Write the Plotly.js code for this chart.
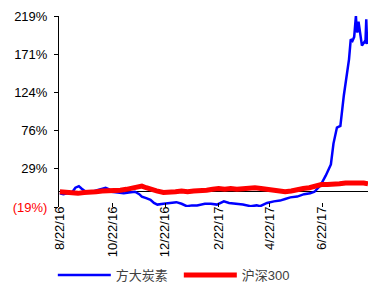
<!DOCTYPE html>
<html>
<head>
<meta charset="utf-8">
<script src="https://cdn.plot.ly/plotly-3.0.1.min.js"></script>
<style>html,body{margin:0;padding:0;background:#fff;overflow:hidden}#chart{width:370px;height:290px}</style>
</head>
<body>
<div id="chart"></div>
<script>
// Series names
const seriesNames = ['方大炭素', '沪深300'];

// 方大炭素 cumulative return (%)
const blueDates = ['2016-08-22','2016-08-26','2016-08-31','2016-09-05','2016-09-09','2016-09-13','2016-09-16','2016-09-21','2016-09-28','2016-10-05','2016-10-10','2016-10-14','2016-10-18','2016-10-21','2016-10-28','2016-11-04','2016-11-10','2016-11-17','2016-11-22','2016-11-25','2016-11-30','2016-12-05','2016-12-09','2016-12-13','2016-12-20','2016-12-28','2017-01-04','2017-01-10','2017-01-16','2017-01-22','2017-01-28','2017-02-06','2017-02-13','2017-02-20','2017-02-28','2017-03-06','2017-03-15','2017-03-22','2017-03-31','2017-04-07','2017-04-11','2017-04-19','2017-04-27','2017-05-04','2017-05-10','2017-05-16','2017-05-24','2017-06-01','2017-06-08','2017-06-13','2017-06-20','2017-06-26','2017-07-02','2017-07-05','2017-07-09','2017-07-13','2017-07-17','2017-07-21','2017-07-23','2017-07-25','2017-07-27','2017-07-29','2017-07-31','2017-08-01','2017-08-02','2017-08-03','2017-08-07','2017-08-10','2017-08-11','2017-08-12','2017-08-13'];
const blueVals = [-2,-3,-2,-1,5,7,4,0,0,2,3,5,3,0,-1,-2,-1,0,-3,-6,-8,-10,-14,-16,-15,-14,-13,-15,-18,-17,-17,-15,-15,-16,-12,-14,-15,-16,-18,-17,-18,-14,-12,-11,-9,-7,-6,-3,-2,0,8,20,34,60,80,82,120,150,165,190,188,193,219,200,199,212,182,187,185,215,184];

// 沪深300 cumulative return (%)
const redDates = ['2016-08-22','2016-08-29','2016-09-05','2016-09-12','2016-09-19','2016-09-26','2016-10-03','2016-10-10','2016-10-17','2016-10-24','2016-10-31','2016-11-07','2016-11-14','2016-11-21','2016-11-25','2016-11-30','2016-12-05','2016-12-12','2016-12-20','2016-12-27','2017-01-03','2017-01-10','2017-01-17','2017-01-24','2017-02-01','2017-02-08','2017-02-15','2017-02-22','2017-03-01','2017-03-08','2017-03-15','2017-03-22','2017-03-29','2017-04-05','2017-04-12','2017-04-19','2017-04-26','2017-05-03','2017-05-10','2017-05-17','2017-05-24','2017-05-31','2017-06-07','2017-06-14','2017-06-21','2017-06-28','2017-07-05','2017-07-12','2017-07-19','2017-07-26','2017-08-02','2017-08-09','2017-08-14'];
const redVals = [0,-1,-1,-2,-1,-1,0,1,1,2,2,3,4,6,7,5,3,1,-1,-1,0,1,0,1,1,2,3,4,3,4,3,4,4,5,4,3,2,1,0,1,3,4,5,7,9,9,9,10,11,11,12,11,10];

// Axis ticks
const xTickVals = ['2016-08-22','2016-10-22','2016-12-22','2017-02-22','2017-04-22','2017-06-22'];
const xTickText = ['8/22/16','10/22/16','12/22/16','2/22/17','4/22/17','6/22/17'];
const yTickVals = [-19, 28.6, 76.2, 123.8, 171.4, 219];
const yTickText = ['<span style="color:#ff0000">(19%)</span>','29%','76%','124%','171%','219%'];

const traces = [
  {x: blueDates, y: blueVals, name: seriesNames[0], type: 'scatter', mode: 'lines',
   line: {color: '#0000ff', width: 2.5}},
  {x: redDates, y: redVals, name: seriesNames[1], type: 'scatter', mode: 'lines',
   line: {color: '#ff0000', width: 5}}
];

const layout = {
  width: 370, height: 290,
  margin: {l: 59, r: 2, t: 16, b: 83, autoexpand: false},
  paper_bgcolor: '#ffffff', plot_bgcolor: '#ffffff',
  font: {family: 'Liberation Sans, Arial, Noto Sans CJK SC, sans-serif', size: 13, color: '#000'},
  showlegend: true,
  legend: {orientation: 'h', x: -0.02, xanchor: 'left', y: -0.4346, yanchor: 'bottom',
    font: {size: 13, color: '#404040', family: 'Liberation Sans, Noto Sans CJK SC, sans-serif'},
    itemwidth: 53, entrywidth: 58, entrywidthmode: 'pixels'},
  xaxis: {type: 'date', range: ['2016-08-21', '2017-08-14'], automargin: false,
    tickvals: xTickVals, ticktext: xTickText, tickangle: -90,
    ticks: 'inside', ticklen: 4, tickcolor: '#000',
    showgrid: false, showline: false, zeroline: false,
    tickfont: {size: 13, color: '#000'}, ticklabelstandoff: -4},
  yaxis: {range: [-19, 219], tickvals: yTickVals, ticktext: yTickText, automargin: false,
    ticks: 'outside', ticklen: 4, tickcolor: '#000',
    showline: true, linecolor: '#000', linewidth: 1,
    showgrid: false, zeroline: true, zerolinecolor: '#000', zerolinewidth: 1,
    tickfont: {size: 13, color: '#000'}, ticklabelstandoff: 4}
};

Plotly.newPlot('chart', traces, layout, {displayModeBar: false, staticPlot: true});
</script>
</body>
</html>
